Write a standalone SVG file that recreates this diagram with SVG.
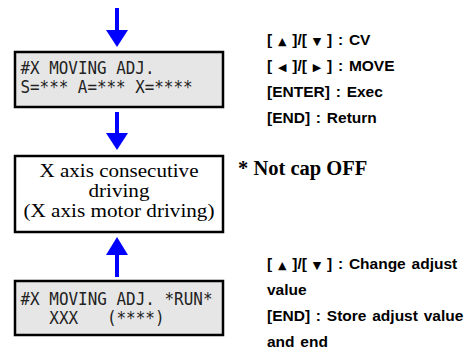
<svg xmlns="http://www.w3.org/2000/svg" width="471" height="354" viewBox="0 0 471 354">
<style>
.lcd{fill:#e6e6e6;stroke:#000;stroke-width:2.5}
.box{fill:#fff;stroke:#000;stroke-width:2.5}
.mono{font-family:"DejaVu Sans Mono",monospace;font-size:17.5px;fill:#222}
.serif{font-family:"Liberation Serif","Times New Roman",serif;font-size:19.5px;fill:#000}
.note{font-family:"Liberation Serif","Times New Roman",serif;font-size:20.5px;font-weight:bold;fill:#000}
.key{font-family:"Liberation Sans",Arial,sans-serif;font-size:15.5px;font-weight:bold;fill:#000;word-spacing:1.5px}
.tri{font-family:"DejaVu Sans",sans-serif;font-size:11px}
.arr line{stroke:#0000ff;stroke-width:4}
.arr polygon{fill:#0000ff}
</style>
<g id="connectors" class="arr">
<line x1="117" y1="8" x2="117" y2="31"/>
<polygon points="106,30 128,30 117,47"/>
<line x1="117" y1="112" x2="117" y2="134"/>
<polygon points="106,133 128,133 117,150"/>
<line x1="117" y1="277" x2="117" y2="254"/>
<polygon points="106,255 128,255 117,237"/>
</g>
<g id="lcd1">
<rect class="lcd" x="15" y="52" width="208" height="55"/>
<text class="mono" x="20.5" y="73.5" textLength="134" lengthAdjust="spacingAndGlyphs">#X MOVING ADJ.</text>
<text class="mono" x="20.5" y="92.5" textLength="172" lengthAdjust="spacingAndGlyphs">S=*** A=*** X=****</text>
</g>
<g id="drive">
<rect class="box" x="15" y="156" width="208" height="76"/>
<text class="serif" x="119" y="177" text-anchor="middle" textLength="159" lengthAdjust="spacingAndGlyphs">X axis consecutive</text>
<text class="serif" x="119" y="197" text-anchor="middle" textLength="61" lengthAdjust="spacingAndGlyphs">driving</text>
<text class="serif" x="119" y="217" text-anchor="middle" textLength="191" lengthAdjust="spacingAndGlyphs">(X axis motor driving)</text>
</g>
<g id="lcd2">
<rect class="lcd" x="15" y="281" width="208" height="54"/>
<text class="mono" x="20.5" y="305" textLength="192" lengthAdjust="spacingAndGlyphs">#X MOVING ADJ. *RUN*</text>
<text class="mono" x="20.5" y="324" xml:space="preserve" textLength="144" lengthAdjust="spacingAndGlyphs">   XXX   (****)</text>
</g>
<g id="note">
<text class="note" x="238" y="175">* Not cap OFF</text>
</g>
<g id="keys1">
<text class="key" x="267" y="45">[ <tspan class="tri">▲</tspan> ]/[ <tspan class="tri">▼</tspan> ] : CV</text>
<text class="key" x="267" y="71">[ <tspan class="tri">◀</tspan> ]/[ <tspan class="tri">▶</tspan> ] : MOVE</text>
<text class="key" x="267" y="97">[ENTER] : Exec</text>
<text class="key" x="267" y="123">[END] : Return</text>
</g>
<g id="keys2">
<text class="key" x="267" y="269">[ <tspan class="tri">▲</tspan> ]/[ <tspan class="tri">▼</tspan> ] : Change adjust</text>
<text class="key" x="267" y="295">value</text>
<text class="key" x="267" y="321">[END] : Store adjust value</text>
<text class="key" x="267" y="347">and end</text>
</g>
</svg>
